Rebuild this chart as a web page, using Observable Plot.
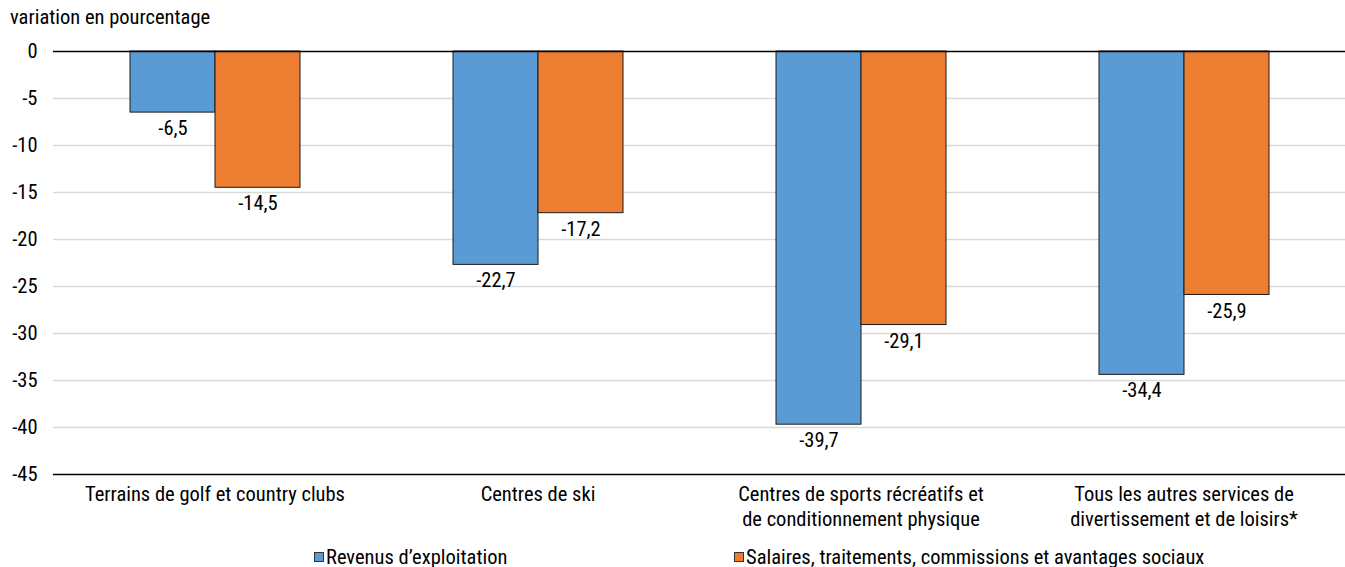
<!DOCTYPE html>
<html>
<head>
<meta charset="utf-8">
<script src="https://cdn.jsdelivr.net/npm/d3@7"></script>
<script src="https://cdn.jsdelivr.net/npm/@observablehq/plot@0.6"></script>
<style>
  html, body { margin: 0; padding: 0; background: #fff; }
  body { width: 1345px; height: 567px; position: relative; overflow: hidden;
         font-family: "Liberation Sans Narrow", "Roboto Condensed", "Arial Narrow", Roboto, sans-serif; color: #000; }
  #title { position: absolute; left: 10px; top: 5px; font-size: 20.5px; }
  #chart { position: absolute; left: 0; top: 30px; }
  #legend { position: absolute; top: 545px; left: 0; width: 1345px; font-size: 20.5px; line-height: 24px; }
  .item { position: absolute; display: flex; align-items: center; white-space: nowrap; }
  .sw { width: 8px; height: 8px; border: 1px solid #333; margin-right: 2px; }
</style>
</head>
<body>
<div id="title">variation en pourcentage</div>
<div id="chart"></div>
<div id="legend"></div>
<script>
const categories = [
  "Terrains de golf et country clubs",
  "Centres de ski",
  "Centres de sports récréatifs et de conditionnement physique",
  "Tous les autres services de divertissement et de loisirs*"
];
const categoryLabels = [
  "Terrains de golf et country clubs",
  "Centres de ski",
  "Centres de sports récréatifs et\nde conditionnement physique",
  "Tous les autres services de\ndivertissement et de loisirs*"
];
const series = ["Revenus d’exploitation", "Salaires, traitements, commissions et avantages sociaux"];
const colors = ["#5B9BD5", "#ED7D31"];
const revenus = [-6.5, -22.7, -39.7, -34.4];
const salaires = [-14.5, -17.2, -29.1, -25.9];
const yTicks = [0, -5, -10, -15, -20, -25, -30, -35, -40, -45];

const data = [];
categories.forEach((c, i) => {
  data.push({category: c, series: series[0], value: revenus[i]});
  data.push({category: c, series: series[1], value: salaires[i]});
});
const labelOf = new Map(categories.map((c, i) => [c, categoryLabels[i]]));
const fmt = v => v.toFixed(1).replace(".", ",");

const chart = Plot.plot({
  width: 1345,
  height: 500,
  marginLeft: 53,
  marginRight: 0,
  marginTop: 21,
  marginBottom: 56,
  style: {fontSize: "20.5px", fontFamily: "inherit", color: "#000", background: "#fff"},
  fx: {domain: categories, padding: 0, label: null},
  x: {domain: series, paddingInner: 0, paddingOuter: 0.894, axis: null},
  y: {domain: [-45, 0], ticks: yTicks, label: null, tickFormat: d => String(d)},
  color: {domain: series, range: colors},
  marks: [
    Plot.ruleY(yTicks.filter(t => t !== 0 && t !== -45), {stroke: "#d9d9d9", strokeWidth: 1.3}),
    Plot.barY(data, {fx: "category", x: "series", y: "value", fill: "series", stroke: "#1a1a1a", strokeWidth: 1}),
    Plot.text(data, {fx: "category", x: "series", y: "value", text: d => fmt(d.value), lineAnchor: "top", dy: 8, fill: "#000"}),
    Plot.ruleY([0, -45], {stroke: "#000", strokeWidth: 1.5}),
    Plot.axisY({ticks: yTicks, tickSize: 0, tickPadding: 16, tickFormat: d => String(d), label: null, line: true, stroke: "#000", strokeWidth: 1.5}),
    Plot.axisFx({anchor: "bottom", tickSize: 0, tickPadding: 9, label: null, tickFormat: c => labelOf.get(c), lineHeight: 1.2})
  ]
});
document.getElementById("chart").appendChild(chart);

const legend = document.getElementById("legend");
const legendX = [314, 734];
series.forEach((s, i) => {
  const it = document.createElement("div");
  it.className = "item";
  it.style.left = legendX[i] + "px";
  const sw = document.createElement("span");
  sw.className = "sw";
  sw.style.background = colors[i];
  const tx = document.createElement("span");
  tx.textContent = s;
  it.appendChild(sw);
  it.appendChild(tx);
  legend.appendChild(it);
});
</script>
</body>
</html>
